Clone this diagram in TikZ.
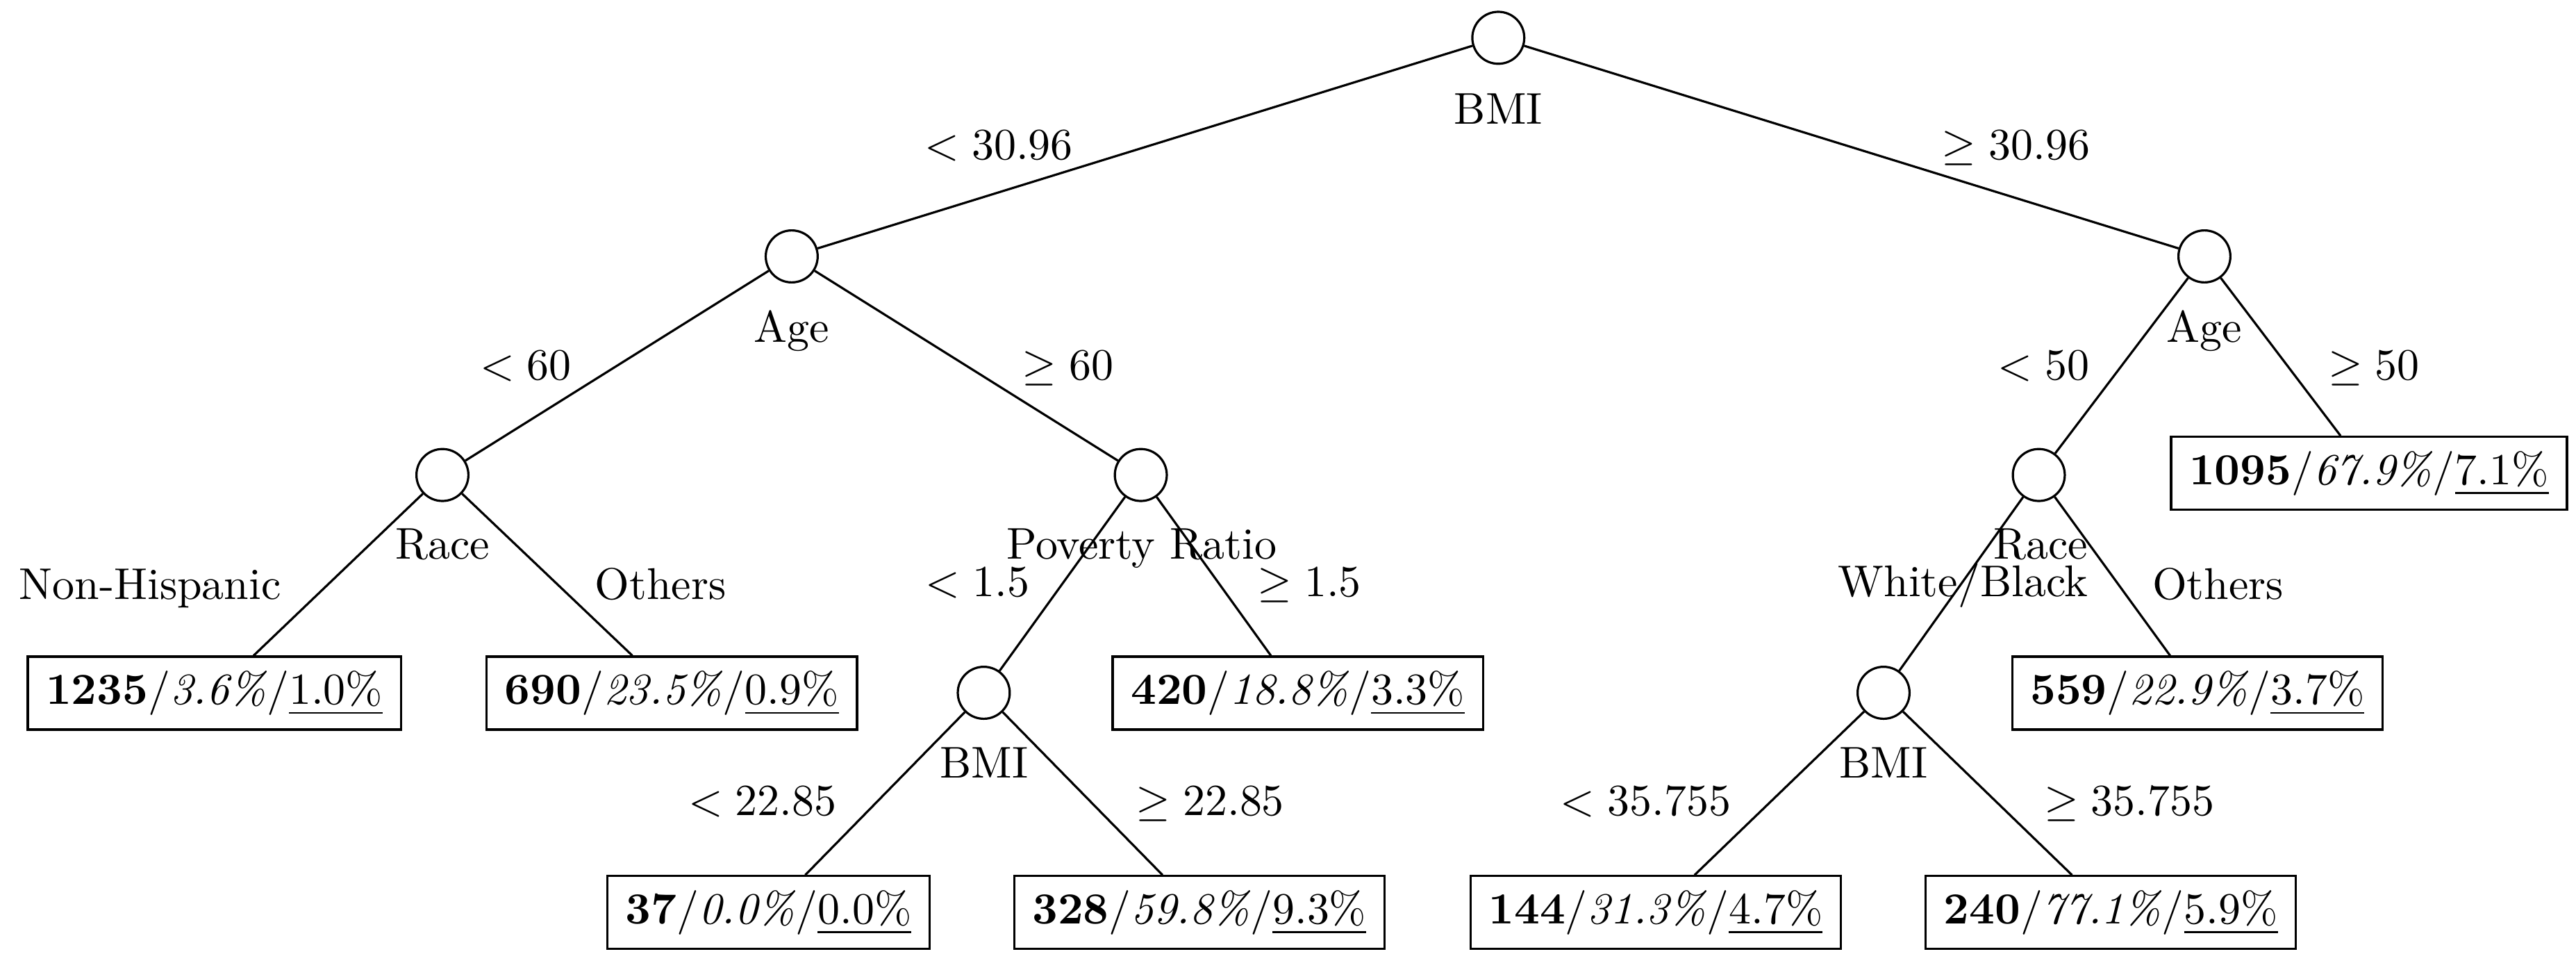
\documentclass[tikz,border=0pt]{standalone}
\newcommand\leafcontent[3]{\textbf{#1}/\textit{#2}/\underline{#3}}
\begin{document}
\begin{tikzpicture}[x=0.37pt,y=-0.37pt,line width=0.5pt,
  split/.style={circle,draw,minimum size=11.7pt,inner sep=0pt},
  leaf/.style={rectangle,draw,inner xsep=4.1pt,inner ysep=0pt,minimum height=16.4pt},
  lbl/.style={anchor=base,inner sep=0pt}]
\useasboundingbox (0,0) rectangle (1568,590);
% split nodes
\node[split] (root)  at (912,23) {};
\node[split] (ageL)  at (481.9,156) {};
\node[split] (ageR)  at (1341.8,156) {};
\node[split] (raceL) at (269.3,289) {};
\node[split] (pov)   at (694.4,289) {};
\node[split] (raceR) at (1241,289) {};
\node[split] (bmiL)  at (598.8,421.5) {};
\node[split] (bmiR)  at (1146.5,421.5) {};
% split labels
\node[lbl] (rootT)  at (912,75.3) {BMI};
\node[lbl] (ageLT)  at (481.9,208.4) {Age};
\node[lbl] (ageRT)  at (1341.8,208.4) {Age};
\node[lbl] (raceLT) at (269.3,340) {Race};
\node[lbl] (povT)   at (695,340) {Poverty Ratio};
\node[lbl] (raceRT) at (1242,340) {Race};
\node[lbl] (bmiLT)  at (599,473.3) {BMI};
\node[lbl] (bmiRT)  at (1146.5,473.3) {BMI};
% leaves
\node[leaf] (l1235) at (130.5,421.7) {\leafcontent{1235}{3.6\%}{1.0\%}};
\node[leaf] (l690)  at (408.9,421.7) {\leafcontent{690}{23.5\%}{0.9\%}};
\node[leaf] (l420)  at (790,421.7)   {\leafcontent{420}{18.8\%}{3.3\%}};
\node[leaf] (l559)  at (1337.5,421.7) {\leafcontent{559}{22.9\%}{3.7\%}};
\node[leaf] (l1095) at (1442,288)    {\leafcontent{1095}{67.9\%}{7.1\%}};
\node[leaf] (l37)   at (467.8,555.2) {\leafcontent{37}{0.0\%}{0.0\%}};
\node[leaf] (l328)  at (730,555.2)   {\leafcontent{328}{59.8\%}{9.3\%}};
\node[leaf] (l144)  at (1007.8,555.2) {\leafcontent{144}{31.3\%}{4.7\%}};
\node[leaf] (l240)  at (1284.8,555.2) {\leafcontent{240}{77.1\%}{5.9\%}};
% edges
\draw (root) -- (ageL);
\draw (root) -- (ageR);
\draw (ageL) -- (raceL);
\draw (ageL) -- (pov);
\draw (ageR) -- (raceR);
\draw (ageR) -- (l1095);
\draw (raceL) -- (l1235);
\draw (raceL) -- (l690);
\draw (pov) -- (bmiL);
\draw (pov) -- (l420);
\draw (raceR) -- (bmiR);
\draw (raceR) -- (l559);
\draw (bmiL) -- (l37);
\draw (bmiL) -- (l328);
\draw (bmiR) -- (l144);
\draw (bmiR) -- (l240);
% edge labels
\node[lbl] (e1) at (608,97) {$<30.96$};
\node[lbl] (e2) at (1227,97) {$\geq 30.96$};
\node[lbl] (e3) at (320,231) {$<60$};
\node[lbl] (e4) at (650,231) {$\geq 60$};
\node[lbl] (e5) at (1244,231) {$<50$};
\node[lbl] (e6) at (1445,231) {$\geq 50$};
\node[lbl] (e7) at (91.4,364.5) {Non-Hispanic};
\node[lbl] (e8) at (402,364.5) {Others};
\node[lbl] (e9) at (595,363) {$<1.5$};
\node[lbl] (e10) at (797,363) {$\geq 1.5$};
\node[lbl] (e11) at (1195,363) {White/Black};
\node[lbl] (e12) at (1350,364.5) {Others};
\node[lbl] (e13) at (464,496) {$<22.85$};
\node[lbl] (e14) at (736.6,496) {$\geq 22.85$};
\node[lbl] (e15) at (1001.7,496) {$<35.755$};
\node[lbl] (e16) at (1296,496) {$\geq 35.755$};
\end{tikzpicture}
\end{document}
